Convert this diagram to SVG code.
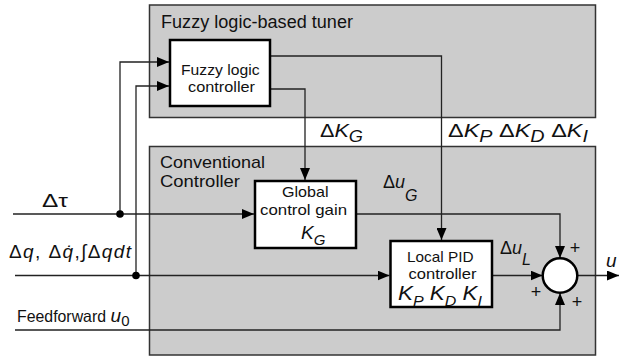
<svg xmlns="http://www.w3.org/2000/svg" width="619" height="359" viewBox="0 0 619 359">
<defs>
<style>
.region{fill:#cccccc;stroke:#333;stroke-width:1.5}
.blk{fill:#fff;stroke:#000;stroke-width:2.5}
.ln{fill:none;stroke:#222;stroke-width:1.3}
.dot{fill:#000}
text{font-family:"Liberation Sans",Arial,"DejaVu Sans",sans-serif;fill:#111}
.it{font-style:italic}
.c{text-anchor:middle}
</style>
<marker id="ah" markerWidth="12" markerHeight="10" refX="12" refY="5" orient="auto" markerUnits="userSpaceOnUse">
<path d="M0,0 L12,5 L0,10 z" fill="#000"/>
</marker>
</defs>
<rect width="619" height="359" fill="#fff"/>

<g id="tuner">
<rect class="region" x="149.5" y="5" width="446" height="112.5"/>
<text x="161" y="28" font-size="17.5" textLength="192" lengthAdjust="spacingAndGlyphs">Fuzzy logic-based tuner</text>
</g>
<g id="conventional">
<rect class="region" x="149.5" y="146.5" width="446" height="208.5"/>
<text x="160" y="168" font-size="17" textLength="105" lengthAdjust="spacingAndGlyphs">Conventional</text>
<text x="160" y="187" font-size="17" textLength="80" lengthAdjust="spacingAndGlyphs">Controller</text>
</g>

<g id="connectors">
<path class="ln" d="M13,214 H254" marker-end="url(#ah)"/>
<path class="ln" d="M120,214 V62 H169" marker-end="url(#ah)"/>
<path class="ln" d="M15,275.5 H389.5" marker-end="url(#ah)"/>
<path class="ln" d="M136,275.5 V86 H169" marker-end="url(#ah)"/>
<path class="ln" d="M15,330 H560 V293" marker-end="url(#ah)"/>
<path class="ln" d="M271,56 H441.5 V240" marker-end="url(#ah)"/>
<path class="ln" d="M271,89 H305 V180" marker-end="url(#ah)"/>
<path class="ln" d="M357,214 H560 V258" marker-end="url(#ah)"/>
<path class="ln" d="M492.5,275.5 H542.5" marker-end="url(#ah)"/>
<path class="ln" d="M577.5,275.5 H619" marker-end="url(#ah)"/>
<circle class="dot" cx="120" cy="214" r="3.8"/>
<circle class="dot" cx="136" cy="275.5" r="3.8"/>
</g>

<g id="fuzzy">
<rect class="blk" x="170" y="40" width="100" height="66"/>
<text x="181" y="74.5" font-size="15" textLength="78.5" lengthAdjust="spacingAndGlyphs">Fuzzy logic</text>
<text x="188" y="92" font-size="15" textLength="67" lengthAdjust="spacingAndGlyphs">controller</text>
</g>

<g id="global">
<rect class="blk" x="255" y="181" width="101" height="67"/>
<text x="282" y="197" font-size="15" textLength="46.5" lengthAdjust="spacingAndGlyphs">Global</text>
<text x="260" y="214.5" font-size="15" textLength="87" lengthAdjust="spacingAndGlyphs">control gain</text>
<text x="301" y="239" font-size="19" class="it">K<tspan font-size="15" dy="6">G</tspan></text>
</g>

<g id="pid">
<rect class="blk" x="390.5" y="241" width="101.5" height="66"/>
<text x="407" y="261.5" font-size="15" textLength="66.5" lengthAdjust="spacingAndGlyphs">Local PID</text>
<text x="408.5" y="279" font-size="15" textLength="68" lengthAdjust="spacingAndGlyphs">controller</text>
<text x="398" y="300" font-size="21" class="it" textLength="84" lengthAdjust="spacingAndGlyphs">K<tspan font-size="15" dy="6">P</tspan><tspan dy="-6"> K</tspan><tspan font-size="15" dy="6">D</tspan><tspan dy="-6"> K</tspan><tspan font-size="15" dy="6">I</tspan></text>
</g>

<g id="sum">
<circle cx="560" cy="275.5" r="17.3" fill="#fff" stroke="#000" stroke-width="2.5"/>
<text class="c" x="575" y="254" font-size="18">+</text>
<text class="c" x="536" y="298" font-size="18">+</text>
<text class="c" x="577" y="308" font-size="18">+</text>
</g>

<g id="labels">
<text x="320" y="137" font-size="19" textLength="43" lengthAdjust="spacingAndGlyphs">Δ<tspan class="it">K</tspan><tspan class="it" font-size="16" dy="5">G</tspan></text>
<text x="448" y="137" font-size="19" textLength="140" lengthAdjust="spacingAndGlyphs">Δ<tspan class="it">K</tspan><tspan class="it" font-size="16" dy="5">P</tspan><tspan dy="-5"> Δ</tspan><tspan class="it">K</tspan><tspan class="it" font-size="16" dy="5">D</tspan><tspan dy="-5"> Δ</tspan><tspan class="it">K</tspan><tspan class="it" font-size="16" dy="5">I</tspan></text>
<text x="383" y="188" font-size="18">Δ<tspan class="it">u</tspan><tspan class="it" font-size="16" x="405" dy="13">G</tspan></text>
<text x="500" y="254" font-size="18">Δ<tspan class="it">u</tspan><tspan class="it" font-size="16" x="522" dy="11">L</tspan></text>
<text x="606" y="267" font-size="19" class="it">u</text>
<text x="42" y="207" font-size="19" textLength="26" lengthAdjust="spacingAndGlyphs">Δτ</text>
<text x="9" y="258" font-size="19" textLength="122" lengthAdjust="spacing">Δ<tspan class="it">q</tspan>, Δ<tspan class="it">q̇</tspan>,∫Δ<tspan class="it">qdt</tspan></text>
<text x="17" y="322" font-size="16.5"><tspan textLength="89" lengthAdjust="spacingAndGlyphs">Feedforward</tspan> <tspan class="it" font-size="19">u</tspan><tspan font-size="15" dy="4">0</tspan></text>
</g>
</svg>
